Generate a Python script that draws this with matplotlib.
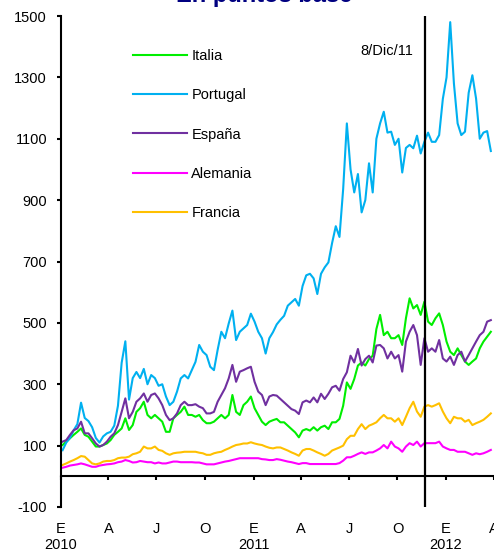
import matplotlib
matplotlib.use("Agg")
import matplotlib.pyplot as plt
import numpy as np
import pandas as pd

plt.rcParams["font.family"] = ["Liberation Sans", "DejaVu Sans"]
plt.rcParams["axes.unicode_minus"] = False

# weekly readings, Jan 2010 - Mar 2012 (basis points)
dates = pd.date_range("2010-01-04", periods=117, freq="7D")

portugal = [85, 110, 125, 150, 170, 240, 190, 180, 160, 125, 110, 130, 140, 145, 165, 230, 370, 440, 250, 320,
            340, 320, 350, 300, 330, 320, 295, 300,
            260, 232, 243, 276, 319, 330, 319, 346, 373, 428, 406, 395, 357, 346, 412, 471, 450, 498, 540, 444,
            471, 482, 493, 530, 504, 471, 450, 400, 450, 470,
            495, 510, 523, 556, 567, 578, 556, 620, 655, 660, 645, 594, 660, 681, 697, 760, 815, 780, 936, 1150,
            1000, 925, 985, 860, 900, 1020, 925, 1100,
            1150, 1188, 1120, 1123, 1080, 1100, 990, 1070, 1080, 1069, 1110, 1052, 1090, 1120, 1090, 1090, 1112,
            1230, 1300, 1480, 1280, 1150, 1112, 1123, 1250, 1307, 1231, 1100, 1120, 1125, 1060]

espana = [113, 118, 135, 150, 156, 178, 140, 140, 124, 107, 97, 102, 113, 129, 140, 167, 210, 254, 189, 210,
          243, 254, 270, 243, 265, 270, 254, 232,
          200, 183, 189, 205, 232, 243, 232, 232, 235, 227, 222, 205, 205, 210, 243, 265, 287, 319, 363, 308,
          341, 346, 352, 357, 308, 276, 265, 232, 260, 265,
          263, 252, 241, 230, 219, 214, 203, 241, 247, 241, 257, 241, 269, 252, 269, 290, 295, 279, 317, 339,
          393, 371, 415, 361, 382, 393, 371, 426,
          428, 417, 384, 406, 384, 395, 341, 439, 471, 493, 460, 363, 450, 406, 417, 406, 444, 384, 374, 390,
          363, 395, 406, 374, 395, 417, 439, 460, 471, 504, 509]

italia = [102, 113, 124, 135, 145, 156, 135, 129, 113, 97, 97, 102, 107, 118, 135, 145, 156, 189, 151, 167,
          210, 222, 243, 200, 189, 200, 189, 178,
          145, 145, 189, 200, 210, 227, 200, 200, 194, 200, 183, 173, 173, 178, 189, 200, 189, 200, 265, 210,
          200, 232, 243, 260, 222, 200, 178, 167, 178, 183,
          187, 176, 176, 165, 154, 143, 127, 149, 154, 149, 160, 149, 160, 165, 154, 176, 176, 187, 230, 306,
          285, 317, 361, 371, 361, 382, 393, 480,
          526, 460, 471, 450, 450, 460, 428, 515, 580, 547, 558, 526, 569, 504, 493, 515, 531, 493, 439, 406,
          395, 417, 395, 374, 363, 374, 384, 417, 439, 455, 471]

francia = [37, 42, 48, 53, 59, 66, 64, 53, 42, 39, 42, 48, 50, 50, 53, 59, 61, 61, 64, 72,
           75, 80, 97, 91, 91, 97, 86, 83,
           75, 70, 75, 77, 78, 80, 80, 80, 80, 77, 75, 70, 70, 75, 78, 80, 86, 91, 97, 102,
           104, 107, 107, 111, 107, 104, 102, 97, 93, 91,
           94, 94, 89, 84, 78, 73, 67, 84, 89, 89, 84, 78, 73, 67, 73, 84, 89, 94, 100, 121,
           132, 132, 154, 170, 154, 165, 170, 176,
           189, 200, 189, 189, 178, 189, 167, 194, 222, 243, 211, 194, 227, 232, 227, 232, 238, 211, 189, 173,
           194, 189, 189, 178, 184, 167, 173, 178, 184, 194, 205]

alemania = [28, 31, 35, 37, 39, 42, 39, 35, 31, 31, 35, 37, 39, 40, 42, 46, 48, 53, 50, 45,
            46, 50, 48, 46, 46, 42, 45, 42,
            42, 45, 48, 48, 46, 46, 46, 46, 45, 45, 42, 39, 39, 39, 42, 45, 48, 50, 53, 56,
            59, 59, 59, 59, 59, 59, 56, 55, 53, 53,
            56, 54, 51, 48, 46, 43, 40, 43, 43, 40, 40, 40, 40, 40, 40, 40, 40, 43, 51, 62,
            62, 67, 73, 78, 73, 78, 78, 84,
            91, 102, 91, 113, 97, 91, 80, 97, 108, 102, 113, 97, 108, 108, 108, 108, 113, 97, 91, 86,
            86, 80, 80, 80, 75, 70, 75, 72, 75, 80, 86]

series = [("Italia", italia, "#00ee00"),
          ("Portugal", portugal, "#00b0f0"),
          ("España", espana, "#7030a0"),
          ("Alemania", alemania, "#ff00ff"),
          ("Francia", francia, "#ffc000")]

tick_dates = pd.date_range("2010-01-01", "2012-04-01", freq="QS")
tick_labels = ["E\n2010", "A", "J", "O", "E\n2011", "A", "J", "O", "E\n2012", "A"]
yticks = [-100, 100, 300, 500, 700, 900, 1100, 1300, 1500]
event_date = pd.Timestamp("2011-11-23")

fig = plt.figure(figsize=(4.94, 5.5), dpi=100)
ax = fig.add_axes([61 / 494, 1 - 507 / 550, 433 / 494, 491 / 550])

for name, vals, col in series:
    ax.plot(dates, vals, color=col, linewidth=1.5, label=name)

ax.axvline(event_date, color="black", linewidth=1.6)
ax.annotate("8/Dic/11", xy=(event_date, 1385), xytext=(-9, 0), textcoords="offset points",
            ha="right", va="center", fontsize=10.5)

ax.set_xlim(pd.Timestamp("2010-01-01"), pd.Timestamp("2012-04-01"))
ax.set_ylim(-100, 1500)
ax.set_yticks(yticks)
ax.set_xticks(tick_dates)
ax.set_xticklabels(tick_labels)
for lbl in ax.get_xticklabels():
    lbl.set_linespacing(1.38)

ax.spines["top"].set_visible(False)
ax.spines["right"].set_visible(False)
ax.spines["bottom"].set_position(("data", 0))
ax.spines["left"].set_linewidth(1.5)
ax.spines["bottom"].set_linewidth(1.5)
ax.tick_params(axis="y", direction="out", length=3, width=1.5, pad=7, labelsize=10.5)
ax.tick_params(axis="x", direction="out", length=3, width=1.5, pad=30, labelsize=10.5)

ax.legend(loc="upper left", bbox_to_anchor=(0.1665, 0.932), frameon=False, fontsize=10.5,
          handlelength=3.7, handletextpad=0.3, labelspacing=1.72, borderpad=0, borderaxespad=0)

fig.text(0.535, 1 - 2 / 550, "En puntos base", ha="center", va="baseline",
         fontsize=17, fontweight="bold", color="#000080")

fig.savefig("out.png", dpi=100)
